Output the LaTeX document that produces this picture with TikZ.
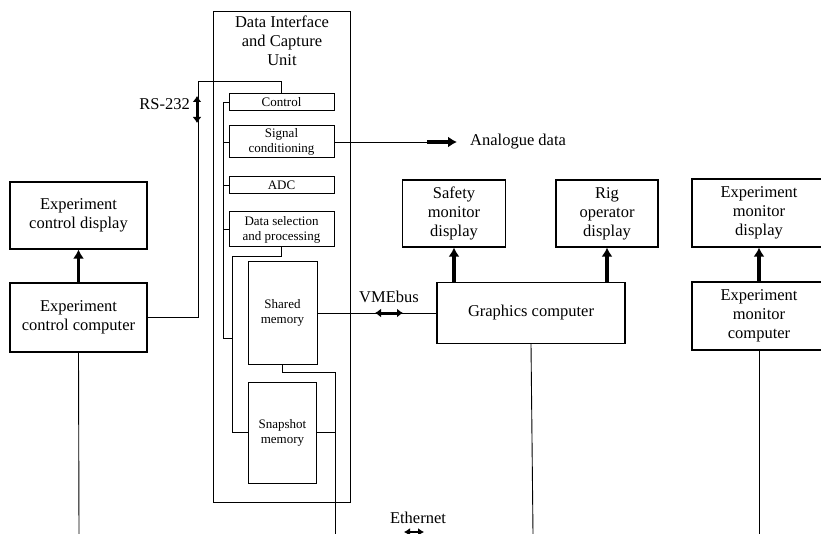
\documentclass[tikz,border=0pt]{standalone}
\usepackage{fontspec}
\setmainfont{Liberation Serif}
\usetikzlibrary{arrows.meta}
\begin{document}
\begin{tikzpicture}[x=1pt,y=-1pt,
  box/.style={draw, line width=1.2pt, inner sep=0pt, align=center, font=\fontsize{16.5}{19}\selectfont},
  sbox/.style={draw, line width=1pt, inner sep=0pt, align=center, font=\fontsize{13}{15}\selectfont},
  conn/.style={line width=0.9pt},
  arr/.style={line width=3.6pt, -{Latex[length=9pt,width=11pt]}},
  darr/.style={line width=3pt, {Latex[length=6pt,width=9pt]}-{Latex[length=6pt,width=9pt]}},
  lbl/.style={font=\fontsize{16.5}{19}\selectfont, inner sep=0pt}]
\useasboundingbox (0,0) rectangle (821,534);

% Data interface and capture unit
\node[draw, line width=1pt, minimum width=137pt, minimum height=490pt, inner sep=0pt] (unit) at (281.5,257) {};
\node[lbl, align=center] (title) at (282,41) {Data Interface\\and Capture\\Unit};
\node[sbox, minimum width=105pt, minimum height=17pt] (ctrl) at (281.5,102.5) {Control};
\node[sbox, minimum width=105pt, minimum height=32pt] (sig) at (281.5,142) {Signal\\conditioning};
\node[sbox, minimum width=105pt, minimum height=17pt] (adc) at (281.5,185.5) {ADC};
\node[sbox, minimum width=105pt, minimum height=35pt] (dsel) at (281.5,229.5) {Data selection\\and processing};
\node[sbox, minimum width=69pt, minimum height=103pt] (shm) at (282.5,313) {Shared\\memory};
\node[sbox, minimum width=68pt, minimum height=101pt] (snap) at (282.5,432.5) {Snapshot\\memory};

% left system
\node[box, minimum width=137pt, minimum height=67pt] (ecd) at (78.5,215.5) {Experiment\\control display};
\node[box, minimum width=137pt, minimum height=69pt] (ecc) at (78.5,317.5) {Experiment\\control computer};

% graphics
\node[box, minimum width=103pt, minimum height=67pt] (smd) at (454,213.5) {Safety\\monitor\\display};
\node[box, minimum width=102pt, minimum height=67pt] (rod) at (607,213.5) {Rig\\operator\\display};
\node[box, minimum width=188pt, minimum height=61pt] (gc) at (531,313) {Graphics computer};

% right system
\node[box, minimum width=134pt, minimum height=68pt] (emd) at (759,213) {Experiment\\monitor\\display};
\node[box, minimum width=134pt, minimum height=68pt] (emc) at (759,316) {Experiment\\monitor\\computer};

% labels
\node[lbl, anchor=east] (rs) at (190,104) {RS-232};
\node[lbl, anchor=west] (ana) at (470,142) {Analogue data};
\node[lbl] (vme) at (389,297) {VMEbus};
\node[lbl] (eth) at (418,518) {Ethernet};

% coordinates
\coordinate (rsTop) at (198,81);
\coordinate (busL) at (223,338);
\coordinate (busR) at (232,338);
\coordinate (dselTurn) at (232,256);
\coordinate (shmTurn) at (335,372);
\coordinate (ethA) at (335,534);
\coordinate (ethB) at (533,534);
\coordinate (ethC) at (759,534);
\coordinate (ethD) at (79,534);
\coordinate (anaEnd) at (457,142);
\coordinate (anaStart) at (427,142);

% RS-232 link
\draw[conn] (ecc.east) -| (rsTop) -| (ctrl.north);
\draw[darr] (197,96) -- (197,123);

% internal bus
\draw[conn] (ctrl.west) -- (ctrl.west -| busL) -- (busL) -- (busR);
\draw[conn] (sig.west) -- (sig.west -| busL);
\draw[conn] (adc.west) -- (adc.west -| busL);
\draw[conn] (dsel.west) -- (dsel.west -| busL);
\draw[conn] (dsel.south) |- (dselTurn) |- (snap.west);
\draw[conn] (shm.south) |- (shmTurn) -- (ethA);
\draw[conn] (snap.east) -- (snap.east -| shmTurn);

% analogue output
\draw[conn] (sig.east) -- (anaStart);
\draw[arr] (anaStart) -- (anaEnd);

% VMEbus
\draw[conn] (shm.east) -- (gc.west);
\draw[darr] (375,313) -- (403,313);

% display arrows
\draw[arr] (ecc.north) -- (ecd.south);
\draw[arr] (gc.north -| smd.south) -- (smd.south);
\draw[arr] (gc.north -| rod.south) -- (rod.south);
\draw[arr] (emc.north) -- (emd.south);

% ethernet drops
\draw[conn] (ecc.south) -- (ethD);
\draw[conn] (gc.south) -- (ethB);
\draw[conn] (emc.south) -- (ethC);
\draw[line width=2.4pt, {Latex[length=6pt,width=8pt]}-{Latex[length=6pt,width=8pt]}] (404,532) -- (424,532);
\end{tikzpicture}
\end{document}
